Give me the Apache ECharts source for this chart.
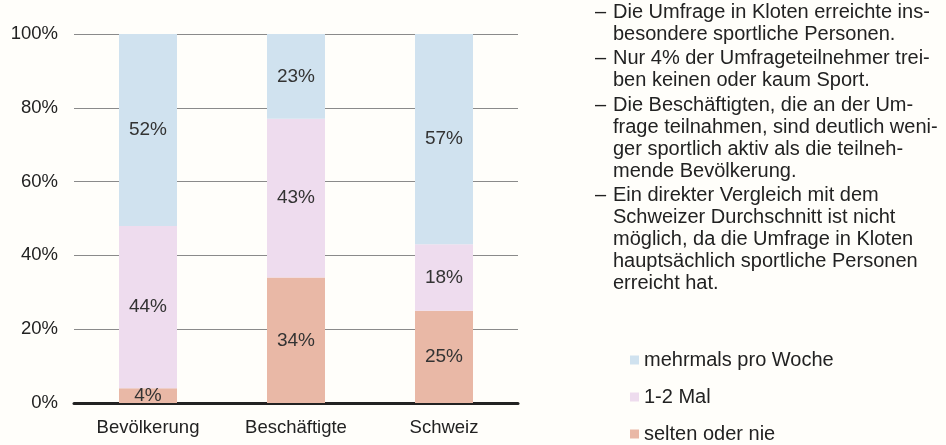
<!DOCTYPE html>
<html>
<head>
<meta charset="utf-8">
<script src="https://cdn.jsdelivr.net/npm/echarts@6/dist/echarts.min.js"></script>
<style>
  html, body { margin: 0; padding: 0; background: #fffefa; }
  #app { width: 946px; height: 445px; }
</style>
</head>
<body>
<div id="app"></div>
<script>
const categories = ["Bevölkerung", "Beschäftigte", "Schweiz"];
const selten = [4, 34, 25];
const einZweiMal = [44, 43, 18];
const mehrmals = [52, 23, 57];
const yTicks = [0, 20, 40, 60, 80, 100];

// Notizen rechts neben dem Diagramm
const notes = [
  ["Die Umfrage in Kloten erreichte ins-", "besondere sportliche Personen."],
  ["Nur 4% der Umfrageteilnehmer trei-", "ben keinen oder kaum Sport."],
  ["Die Beschäftigten, die an der Um-", "frage teilnahmen, sind deutlich weni-", "ger sportlich aktiv als die teilneh-", "mende Bevölkerung."],
  ["Ein direkter Vergleich mit dem", "Schweizer Durchschnitt ist nicht", "möglich, da die Umfrage in Kloten", "hauptsächlich sportliche Personen", "erreicht hat."]
];

const font = "Liberation Sans, Arial, sans-serif";
const myChart = echarts.init(document.getElementById("app"));

const graphic = [];
let y = 2;
notes.forEach((block) => {
  graphic.push({
    type: "text", left: 595, top: y,
    style: { text: "–", font: "20px " + font, fill: "#222" }
  });
  block.forEach((line) => {
    graphic.push({
      type: "text", left: 613, top: y,
      style: { text: line, font: "20px " + font, fill: "#222" }
    });
    y += 22;
  });
  y += 2.5;
});

const labelStyle = {
  show: true,
  position: "inside",
  formatter: "{c}%",
  fontFamily: font,
  fontSize: 19,
  color: "#333"
};

const makeSeries = (name, data, color) => ({
  name,
  type: "bar",
  stack: "total",
  barWidth: 58,
  data,
  itemStyle: { color },
  label: labelStyle
});

myChart.setOption({
  backgroundColor: "#fffefa",
  animation: false,
  textStyle: { fontFamily: font },
  grid: { left: 74, right: 428, top: 34, bottom: 42 },
  legend: {
    orient: "vertical",
    left: 625,
    top: 345,
    height: 120,
    itemWidth: 9,
    itemHeight: 9,
    itemGap: 17,
    icon: "rect",
    data: ["mehrmals pro Woche", "1-2 Mal", "selten oder nie"],
    textStyle: { fontFamily: font, fontSize: 20, color: "#222" }
  },
  xAxis: {
    type: "category",
    data: categories,
    axisTick: { show: false },
    axisLine: { lineStyle: { color: "#222", width: 3 } },
    axisLabel: { fontFamily: font, fontSize: 18.5, color: "#222", margin: 15 }
  },
  yAxis: {
    type: "value",
    min: 0,
    max: 100,
    interval: 20,
    axisLine: { show: false },
    axisTick: { show: false },
    splitLine: { lineStyle: { color: "#8a8a8a", width: 1 } },
    axisLabel: {
      fontFamily: font, fontSize: 18.5, color: "#222", margin: 16,
      formatter: (v) => (yTicks.includes(v) ? v + "%" : "")
    }
  },
  graphic,
  series: [
    makeSeries("selten oder nie", selten, "#e9b8a6"),
    makeSeries("1-2 Mal", einZweiMal, "#eedcee"),
    makeSeries("mehrmals pro Woche", mehrmals, "#d0e2ef")
  ]
});
</script>
</body>
</html>
